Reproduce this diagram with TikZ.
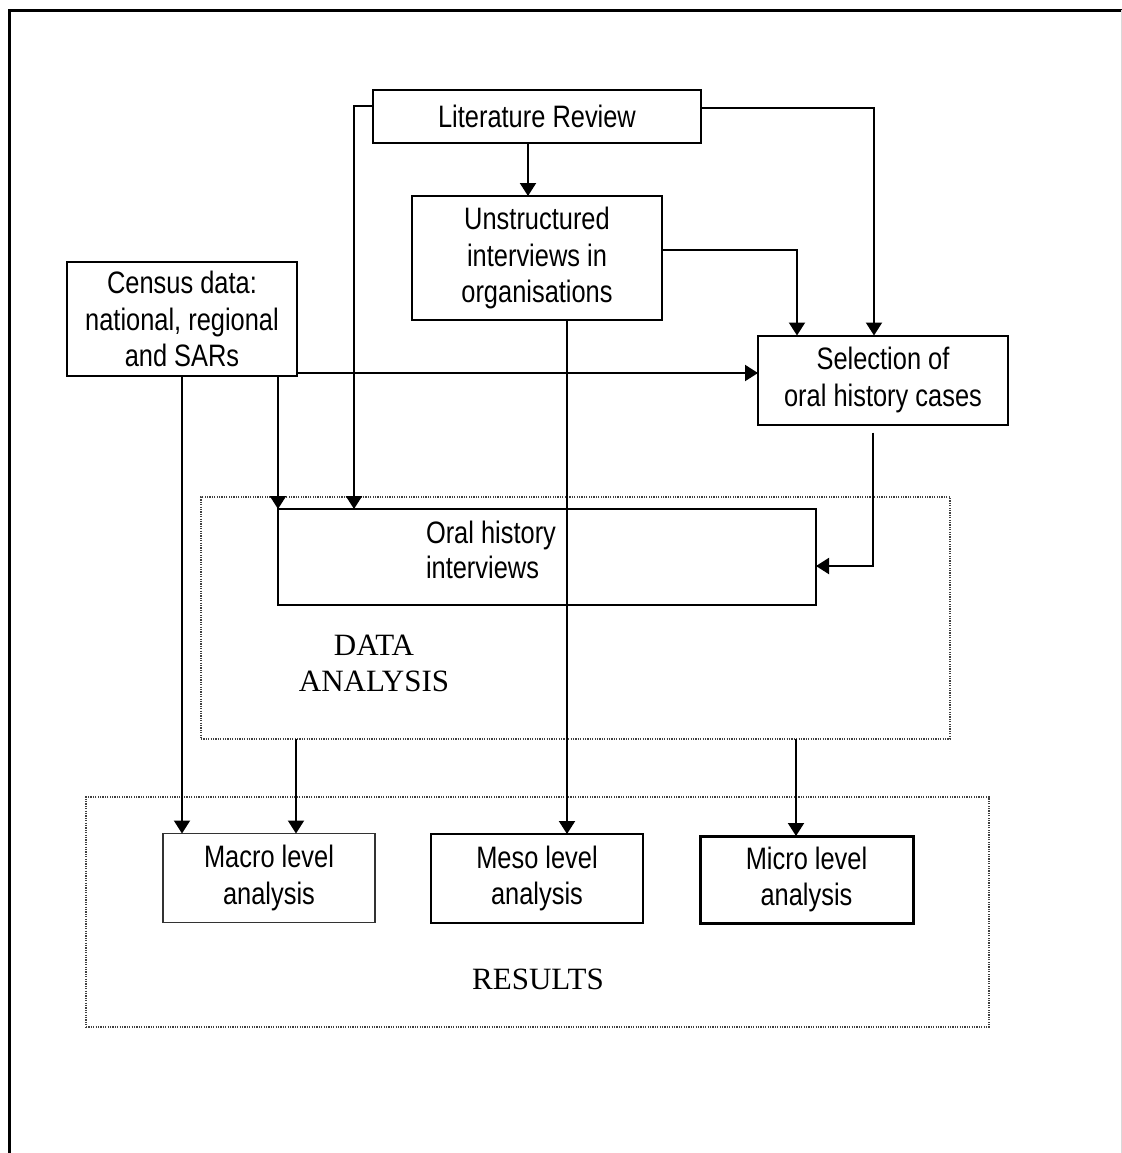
\documentclass[tikz,border=0pt]{standalone}
\usepackage{fontspec}
\setmainfont{Liberation Serif}
\newfontfamily\boxfont[FakeStretch=0.82]{Liberation Sans}
\usetikzlibrary{arrows.meta}

\begin{document}
\begin{tikzpicture}[x=0.5pt,y=-0.5pt,
  every node/.style={inner sep=0pt, outer sep=0pt},
  box/.style={draw, line width=1pt, align=center,
    font=\boxfont\fontsize{15.5}{18.3}\selectfont},
  region/.style={draw=black!75, line width=0.6pt, dash pattern=on 0.6pt off 0.6pt},
  caption/.style={font=\fontsize{15.5}{18}\selectfont, align=center},
  arr/.style={line width=1pt, -{Triangle[length=6.5pt,width=8pt]}}]

\useasboundingbox (0,0) rectangle (1122,1153);

% page frame
\draw[line width=1.5pt] (9,1153) -- (9,10) -- (1122,10);
\draw[black!15, line width=0.5pt] (1121,10) -- (1121,1153);

% grouping regions
\node[region, minimum width=374.5pt, minimum height=121pt] (da) at (575.5,618) {};
\node[region, minimum width=451.5pt, minimum height=115pt] (res) at (537.5,912) {};
\node[caption] (datxt) at (374,663) {DATA\\ANALYSIS};
\node[caption] (restxt) at (538,979) {RESULTS};

% sources and steps
\node[box, minimum width=164pt, minimum height=26.5pt] (lit) at (537,116.5) {Literature Review};
\node[box, minimum width=125pt, minimum height=62pt] (unstr) at (537,258) {Unstructured\\interviews in\\organisations};
\node[box, minimum width=115pt, minimum height=57pt] (census) at (182,319) {Census data:\\national, regional\\and SARs};
\node[box, minimum width=125pt, minimum height=44.5pt] (sel) at (883,380) {Selection of\\oral history cases};
\node[box, minimum width=269pt, minimum height=48pt] (oral) at (547,557) {};
\node[anchor=west, align=left, font=\boxfont\fontsize{15.5}{17.5}\selectfont] (oraltxt) at (426,550) {Oral history\\interviews};

% results
\node[box, draw=black!80, line width=0.6pt, minimum width=106pt, minimum height=44.5pt] (macro) at (269,878) {Macro level\\analysis};
\node[box, line width=1.2pt, minimum width=106pt, minimum height=44.5pt] (meso) at (537,878.5) {Meso level\\analysis};
\node[box, line width=1.5pt, minimum width=106.5pt, minimum height=43.5pt] (micro) at (806.5,879.5) {Micro level\\analysis};

% connectors
\draw[arr] ([yshift=5.25pt]lit.west) -| ([xshift=-96.5pt]oral.north);
\draw[arr] ([yshift=4.25pt]lit.east) -| ([xshift=-4.5pt]sel.north);
\draw[arr] ([xshift=-4.5pt]lit.south) -- ([xshift=-4.5pt]unstr.north);
\draw[arr] ([yshift=4pt]unstr.east) -| ([xshift=-43pt]sel.north);

\coordinate (cs) at ([yshift=-27pt]census.east);
\draw[arr] (cs) -- (cs -| sel.west);
\draw[arr] (census.south) -- (census.south |- macro.north);
\coordinate (co) at ([xshift=48pt]census.south);
\draw[arr] (co) -- (co |- oral.north);

\coordinate (ss) at ([xshift=-5pt,yshift=-4pt]sel.south);
\draw[arr] (ss) |- ([yshift=-4.5pt]oral.east);

\coordinate (us) at ([xshift=15pt]unstr.south);
\draw[arr] (us) -- (us |- meso.north);

\coordinate (dm) at ([xshift=13.5pt]macro.north);
\draw[arr] (dm |- da.south) -- (dm);
\coordinate (dk) at ([xshift=-5.25pt]micro.north);
\draw[arr] (dk |- da.south) -- (dk);
\end{tikzpicture}
\end{document}
